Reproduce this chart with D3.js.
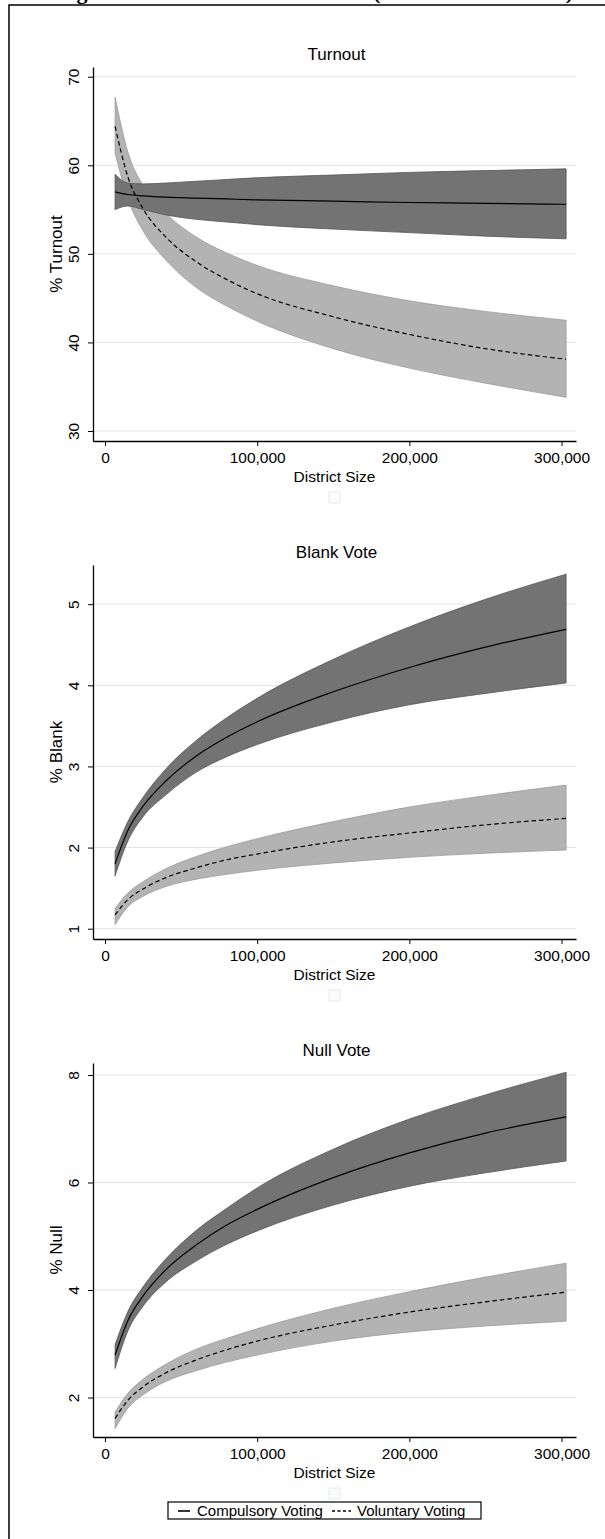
<!doctype html>
<html>
    <head>
        <meta charset="utf-8" />
        <title>District Size</title>
        <script src="https://cdn.jsdelivr.net/npm/d3@7"></script>
        <style type="text/css">
            html, body { margin: 0; padding: 0; background: #fff; }
            svg { display: block; font-family: "Liberation Sans", Arial, sans-serif; }
        </style>
    </head>
    <body>
        <script>
            // district size at which the predictions were computed
            const districtSize = [6600, 15000, 25000, 40000, 60000, 80000, 100000, 150000, 200000, 250000, 303000];
            const xTicks = [0, 100000, 200000, 300000];

            // turnout
            const turnoutComp   = [57.0, 56.7, 56.55, 56.4, 56.3, 56.2, 56.1, 55.95, 55.8, 55.7, 55.6];
            const turnoutCompHi = [59.0, 58.0, 57.9, 58.0, 58.2, 58.4, 58.6, 58.9, 59.2, 59.4, 59.6];
            const turnoutCompLo = [55.0, 55.4, 55.0, 54.4, 53.9, 53.6, 53.3, 52.8, 52.4, 52.0, 51.7];
            const turnoutVol    = [64.4, 58.7, 55.1, 51.9, 49.1, 47.1, 45.5, 42.9, 40.9, 39.3, 38.1];
            const turnoutVolHi  = [67.7, 61.5, 57.7, 54.6, 51.9, 50.1, 48.7, 46.4, 44.7, 43.5, 42.5];
            const turnoutVolLo  = [61.4, 56.2, 52.6, 49.3, 46.2, 44.1, 42.4, 39.3, 37.1, 35.4, 33.8];
            const turnoutTicks  = [30, 40, 50, 60, 70];

            // blank vote
            const blankComp   = [1.80, 2.21, 2.51, 2.82, 3.13, 3.36, 3.55, 3.92, 4.22, 4.47, 4.69];
            const blankCompHi = [1.95, 2.32, 2.62, 2.97, 3.32, 3.60, 3.84, 4.32, 4.72, 5.06, 5.37];
            const blankCompLo = [1.65, 2.08, 2.38, 2.65, 2.93, 3.12, 3.27, 3.55, 3.76, 3.90, 4.03];
            const blankVol    = [1.17, 1.36, 1.49, 1.63, 1.75, 1.85, 1.92, 2.07, 2.18, 2.28, 2.36];
            const blankVolHi  = [1.25, 1.44, 1.58, 1.74, 1.89, 2.01, 2.11, 2.32, 2.50, 2.64, 2.77];
            const blankVolLo  = [1.05, 1.27, 1.40, 1.52, 1.61, 1.67, 1.72, 1.81, 1.88, 1.93, 1.97];
            const blankTicks  = [1, 2, 3, 4, 5];

            // null vote
            const nullComp   = [2.79, 3.43, 3.89, 4.38, 4.84, 5.21, 5.50, 6.09, 6.55, 6.92, 7.22];
            const nullCompHi = [2.98, 3.60, 4.06, 4.58, 5.11, 5.52, 5.90, 6.62, 7.18, 7.63, 8.05];
            const nullCompLo = [2.54, 3.24, 3.70, 4.15, 4.54, 4.85, 5.10, 5.58, 5.93, 6.18, 6.40];
            const nullVol    = [1.61, 1.95, 2.20, 2.46, 2.70, 2.89, 3.05, 3.35, 3.59, 3.78, 3.96];
            const nullVolHi  = [1.73, 2.08, 2.34, 2.62, 2.90, 3.10, 3.28, 3.66, 3.97, 4.24, 4.50];
            const nullVolLo  = [1.42, 1.80, 2.05, 2.30, 2.50, 2.66, 2.79, 3.05, 3.22, 3.33, 3.42];
            const nullTicks  = [2, 4, 6, 8];

            const legendLabels = ["Compulsory Voting", "Voluntary Voting"];

            const W = 605, H = 1539;
            const left = 93, right = 576;
            const panelH = 374;

            const svg = d3.select("body").append("svg")
                .attr("width", W).attr("height", H);

            // figure title, mostly above the page edge
            const serif = "'Liberation Serif', 'Times New Roman', serif";
            svg.append("text")
                .attr("x", 57).attr("y", -1)
                .style("font-family", serif)
                .style("font-weight", "bold").style("font-size", "22px")
                .text("Figure 3: District Size Effects");
            svg.append("text")
                .attr("x", 373).attr("y", -1)
                .attr("textLength", 200).attr("lengthAdjust", "spacing")
                .style("font-family", serif)
                .style("font-weight", "bold").style("font-size", "22px")
                .text("(Local Elections)");
            svg.append("path")
                .attr("d", `M9,${H} V5 H${W}`)
                .attr("fill", "none").attr("stroke", "#000").attr("stroke-width", 1.5);

            const x = d3.scaleLinear().domain([-7900, 309500]).range([left, right]);

            const panels = [
                { title: "Turnout", ylab: "% Turnout", top: 67, dom: [28.87, 71.1], ticks: turnoutTicks,
                  comp: turnoutComp, compHi: turnoutCompHi, compLo: turnoutCompLo,
                  vol: turnoutVol, volHi: turnoutVolHi, volLo: turnoutVolLo },
                { title: "Blank Vote", ylab: "% Blank", top: 565, dom: [0.873, 5.483], ticks: blankTicks,
                  comp: blankComp, compHi: blankCompHi, compLo: blankCompLo,
                  vol: blankVol, volHi: blankVolHi, volLo: blankVolLo },
                { title: "Null Vote", ylab: "% Null", top: 1063, dom: [1.266, 8.223], ticks: nullTicks,
                  comp: nullComp, compHi: nullCompHi, compLo: nullCompLo,
                  vol: nullVol, volHi: nullVolHi, volLo: nullVolLo }
            ];

            panels.forEach(p => drawPanel(p));

            function drawPanel(p) {
                const bottom = p.top + panelH;
                const y = d3.scaleLinear().domain(p.dom).range([bottom, p.top]);
                const g = svg.append("g");

                // title
                g.append("text")
                    .attr("x", (left + right) / 2 + 2).attr("y", p.top - 7)
                    .attr("text-anchor", "middle").style("font-size", "17px")
                    .text(p.title);

                // grid
                g.append("g").selectAll("line").data(p.ticks).join("line")
                    .attr("x1", left).attr("x2", right)
                    .attr("y1", d => y(d)).attr("y2", d => y(d))
                    .attr("stroke", "#e3e3e3").attr("stroke-width", 1);

                const pts = districtSize.map((d, i) => i);
                const band = (hi, lo) => d3.area().curve(d3.curveMonotoneX)
                    .x(i => x(districtSize[i])).y0(i => y(lo[i])).y1(i => y(hi[i]))(pts);
                const line = v => d3.line().curve(d3.curveMonotoneX)
                    .x(i => x(districtSize[i])).y(i => y(v[i]))(pts);

                g.append("path").attr("d", band(p.volHi, p.volLo))
                    .attr("fill", "#b3b3b3").attr("stroke", "#9c9c9c").attr("stroke-width", 0.8);
                g.append("path").attr("d", band(p.compHi, p.compLo))
                    .attr("fill", "#737373").attr("stroke", "#555").attr("stroke-width", 0.8);
                g.append("path").attr("d", line(p.comp))
                    .attr("fill", "none").attr("stroke", "#000").attr("stroke-width", 1.2);
                g.append("path").attr("d", line(p.vol))
                    .attr("fill", "none").attr("stroke", "#000").attr("stroke-width", 1.2)
                    .attr("stroke-dasharray", "4.5,3");

                // axes
                const ya = g.append("g").attr("transform", `translate(${left},0)`)
                    .call(d3.axisLeft(y).tickValues(p.ticks).tickSize(5).tickSizeOuter(0));
                ya.select(".domain").attr("stroke", "#000").attr("stroke-width", 1.3);
                ya.selectAll(".tick line").attr("stroke", "#000");
                ya.selectAll(".tick text").remove();
                ya.selectAll(".tick").append("text")
                    .attr("transform", "translate(-14,0) rotate(-90)")
                    .attr("text-anchor", "middle").attr("fill", "#000")
                    .style("font-size", "15.5px").style("font-family", "'Liberation Sans', Arial, sans-serif")
                    .text(d => d);

                g.append("text")
                    .attr("transform", `translate(62,${(p.top + bottom) / 2}) rotate(-90)`)
                    .attr("text-anchor", "middle").style("font-size", "17px")
                    .text(p.ylab);

                const xa = g.append("g").attr("transform", `translate(0,${bottom})`)
                    .call(d3.axisBottom(x).tickValues(xTicks).tickSize(5).tickSizeOuter(0)
                        .tickFormat(d3.format(",")));
                xa.select(".domain").attr("stroke", "#000").attr("stroke-width", 1.3);
                xa.selectAll(".tick line").attr("stroke", "#000");
                xa.selectAll(".tick text").attr("dy", null).attr("y", 22)
                    .attr("fill", "#000").style("font-size", "15.5px")
                    .style("font-family", "'Liberation Sans', Arial, sans-serif");

                g.append("text")
                    .attr("x", (left + right) / 2).attr("y", bottom + 41)
                    .attr("text-anchor", "middle").style("font-size", "15.5px")
                    .text("District Size");

                // empty legend placeholder
                g.append("rect")
                    .attr("x", 329).attr("y", bottom + 51).attr("width", 11).attr("height", 11)
                    .attr("fill", "#fbfdfd").attr("stroke", "#e2e6e6").attr("stroke-width", 0.8);
            }

            // legend
            const leg = svg.append("g").attr("transform", "translate(168,1502)");
            leg.append("rect").attr("width", 313).attr("height", 17)
                .attr("fill", "#fff").attr("stroke", "#000").attr("stroke-width", 1.2);
            leg.append("line").attr("x1", 10).attr("x2", 22).attr("y1", 9).attr("y2", 9)
                .attr("stroke", "#000").attr("stroke-width", 1.6);
            leg.append("text").attr("x", 29).attr("y", 14).style("font-size", "15px")
                .text(legendLabels[0]);
            leg.append("line").attr("x1", 164).attr("x2", 183).attr("y1", 9).attr("y2", 9)
                .attr("stroke", "#000").attr("stroke-width", 1.6).attr("stroke-dasharray", "3,2.5");
            leg.append("text").attr("x", 189).attr("y", 14).style("font-size", "15px")
                .text(legendLabels[1]);
        </script>
    </body>
</html>
